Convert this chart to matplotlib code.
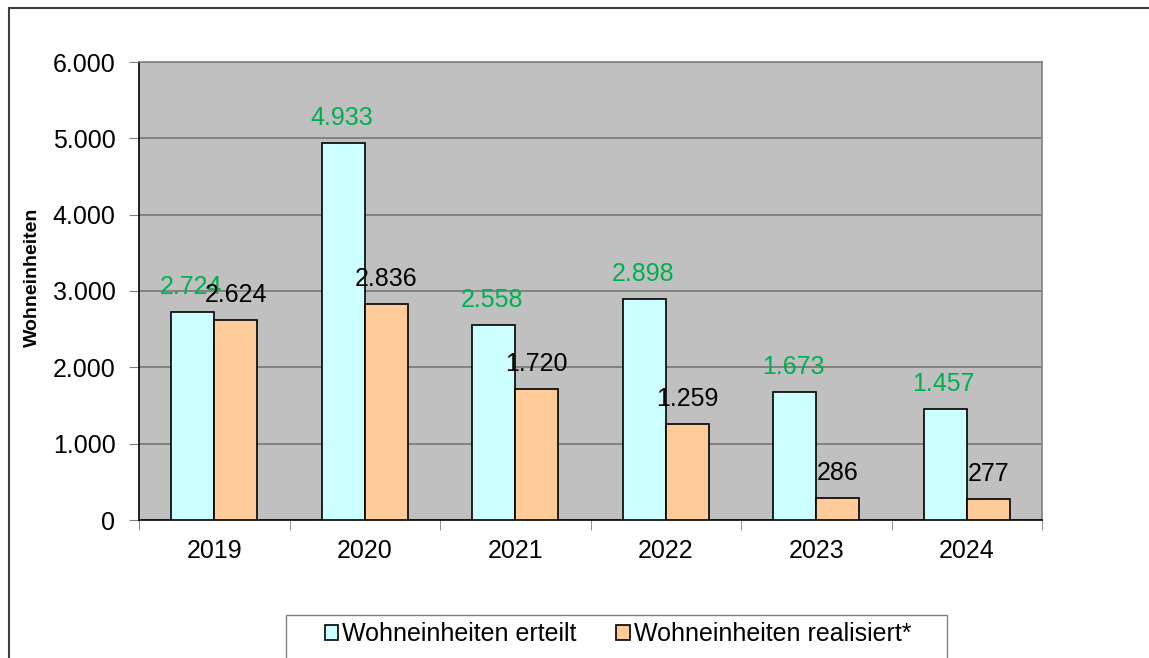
import matplotlib.pyplot as plt
import numpy as np
from matplotlib.patches import Rectangle

plt.rcParams['font.family'] = ['Liberation Sans', 'DejaVu Sans']

years = ['2019', '2020', '2021', '2022', '2023', '2024']
erteilt = [2724, 4933, 2558, 2898, 1673, 1457]
realisiert = [2624, 2836, 1720, 1259, 286, 277]

fig = plt.figure(figsize=(11.49, 6.58), dpi=100)
ax = fig.add_axes([139/1149, 1 - 520/658, (1042-139)/1149, (520-62)/658])

# outer frame of the chart
fig.patches.append(Rectangle((9/1149, -0.05), 1.2, 1 - 8/658 + 0.05, transform=fig.transFigure,
                             fill=False, edgecolor='#404040', linewidth=1.5))

x = np.arange(len(years))
w = 0.286
ax.set_facecolor('#C0C0C0')
b1 = ax.bar(x - w/2, erteilt, w, color='#CCFFFF', edgecolor='black', linewidth=1.2,
            label='Wohneinheiten erteilt', zorder=3)
b2 = ax.bar(x + w/2, realisiert, w, color='#FFCC99', edgecolor='black', linewidth=1.2,
            label='Wohneinheiten realisiert*', zorder=3)

for xi, v in zip(x, erteilt):
    ax.annotate(f'{v:,}'.replace(',', '.'), (xi - w/2, v), xytext=(-1, 18),
                textcoords='offset points', ha='center', va='center',
                fontsize=18, color='#00B050', zorder=5)
for xi, v in zip(x, realisiert):
    ax.annotate(f'{v:,}'.replace(',', '.'), (xi + w/2, v), xytext=(0, 18),
                textcoords='offset points', ha='center', va='center',
                fontsize=18, color='black', zorder=5)

ax.set_xlim(-0.5, len(years) - 0.5)
ax.set_ylim(0, 6000)
ax.set_yticks(range(0, 6001, 1000))
ax.set_yticklabels([f'{v:,}'.replace(',', '.') for v in range(0, 6001, 1000)])
ax.yaxis.grid(True, color='#707070', linewidth=1.1, zorder=0)
ax.set_axisbelow(True)

ax.set_xticks(x)
ax.set_xticklabels(years)
ax.set_xticks(np.arange(-0.5, len(years)), minor=True)
ax.tick_params(axis='x', which='major', length=0, pad=14, labelsize=18)
ax.tick_params(axis='x', which='minor', length=7, color='#808080')
ax.tick_params(axis='y', length=7, color='#808080', labelsize=18, pad=10)

ax.spines['left'].set_color('black')
ax.spines['bottom'].set_color('black')
ax.spines['top'].set_color('#808080')
ax.spines['right'].set_color('#808080')
for s in ax.spines.values():
    s.set_linewidth(1.2)

fig.text(32/1149, 1 - 277/658, 'Wohneinheiten', rotation=90, ha='center', va='center',
         fontsize=14, fontweight='bold')

# legend box at the bottom
fig.patches.append(Rectangle((286/1149, -0.05), (947-286)/1149, (658-615)/658 + 0.05,
                             transform=fig.transFigure, fill=False, edgecolor='#808080', linewidth=1))
fig.legend(handles=[b1, b2], loc='center', bbox_to_anchor=(618/1149, 1 - 634/658),
           ncol=2, frameon=False, fontsize=18, handlelength=0.55, handleheight=0.55,
           handletextpad=0.15, columnspacing=1.6)

fig.savefig('out.png', dpi=100)
